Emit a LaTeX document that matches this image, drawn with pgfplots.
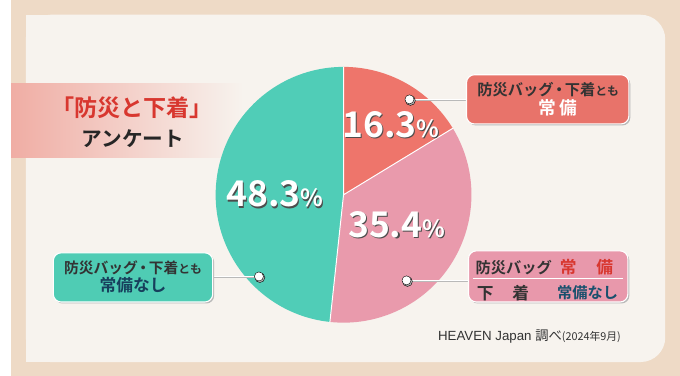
\documentclass[border=0pt]{standalone}
\usepackage{pgfplots}
\pgfplotsset{compat=1.18}
\usepackage{pgfplotstable}
\usepackage{fontspec}
\setmainfont{Noto Sans CJK JP}[BoldFont={Noto Sans CJK JP Bold}]
\newfontfamily\latin{Liberation Sans}
\definecolor{bgOuter}{HTML}{EEDAC6}
\definecolor{panel}{HTML}{F7F3EE}
\definecolor{pieRed}{HTML}{EE756B}
\definecolor{piePink}{HTML}{E99AAC}
\definecolor{pieTeal}{HTML}{50CDB7}
\definecolor{boxRed}{HTML}{E8736A}
\definecolor{boxPink}{HTML}{E898AB}
\definecolor{boxTeal}{HTML}{4FCCB4}
\definecolor{titleRed}{HTML}{D8372F}
\definecolor{darkText}{HTML}{333333}
\definecolor{navy}{HTML}{173F5C}
\definecolor{darkTeal}{HTML}{18506D}
\definecolor{bandPink}{HTML}{F0ADA4}
\definecolor{bandMid}{HTML}{F5CFC8}
\newcommand\olcopy[4]{\makebox[0pt][l]{\kern#1\raisebox{#2}{\textcolor{#3}{#4}}}}
\newcommand\sh[1]{\olcopy{1.3pt}{-1.3pt}{black!70}{#1}\textcolor{white}{#1}}
\pgfplotstableread{
label value
both 16.3
bag 35.4
none 48.3
}\piedata
\begin{document}
\pgfplotstablegetelem{0}{value}\of\piedata \let\va\pgfplotsretval
\pgfplotstablegetelem{1}{value}\of\piedata \let\vb\pgfplotsretval
\pgfplotstablegetelem{2}{value}\of\piedata \let\vc\pgfplotsretval
\pgfmathsetmacro\aA{90}
\pgfmathsetmacro\aB{90-3.6*\va}
\pgfmathsetmacro\aC{\aB-3.6*\vb}
\pgfmathsetmacro\aD{\aC-3.6*\vc}
\def\cx{338}\def\cy{184}\def\rr{130}
\begin{tikzpicture}
\begin{axis}[x=1pt,y=1pt,xmin=0,xmax=680,ymin=0,ymax=382,hide axis,clip=false,scale only axis]
% background
\fill[bgOuter] (axis cs:0,0) rectangle (axis cs:680,382);
\fill[panel, rounded corners=25pt] (axis cs:15,14) rectangle (axis cs:665,367);
\fill[panel] (axis cs:15,14) rectangle (axis cs:120,367);
% title band
\shade[left color=bandPink, middle color=bandMid, right color=panel] (axis cs:0,222) rectangle (axis cs:236,297);
% pie
\fill[pieRed] (axis cs:\cx,\cy) -- (axis cs:{\cx+\rr*cos(\aA)},{\cy+\rr*sin(\aA)}) arc[start angle=\aA, end angle=\aB, radius=\rr pt] -- cycle;
\fill[piePink] (axis cs:\cx,\cy) -- (axis cs:{\cx+\rr*cos(\aB)},{\cy+\rr*sin(\aB)}) arc[start angle=\aB, end angle=\aC, radius=\rr pt] -- cycle;
\fill[pieTeal] (axis cs:\cx,\cy) -- (axis cs:{\cx+\rr*cos(\aC)},{\cy+\rr*sin(\aC)}) arc[start angle=\aC, end angle=\aD, radius=\rr pt] -- cycle;
\draw[white, line width=1pt] (axis cs:{\cx+\rr*cos(\aA)},{\cy+\rr*sin(\aA)}) -- (axis cs:\cx,\cy) -- (axis cs:{\cx+\rr*cos(\aB)},{\cy+\rr*sin(\aB)});
\draw[white, line width=1pt] (axis cs:\cx,\cy) -- (axis cs:{\cx+\rr*cos(\aC)},{\cy+\rr*sin(\aC)});
% leader lines
\draw[gray!55, line width=2pt] (axis cs:405,280) -- (axis cs:464,280);
\draw[white, line width=1.4pt] (axis cs:405,281) -- (axis cs:464,281);
\draw[gray!55, line width=2pt] (axis cs:402,96) -- (axis cs:466,96);
\draw[white, line width=1.4pt] (axis cs:402,97) -- (axis cs:466,97);
\draw[gray!55, line width=2pt] (axis cs:204,100) -- (axis cs:252,100);
\draw[white, line width=1.4pt] (axis cs:204,101) -- (axis cs:252,101);
\addplot[only marks, mark=*, mark size=5pt, mark options={fill=gray!60, draw=none}] coordinates {(406,279.8) (403,95.8) (253,99.8)};
\addplot[only marks, mark=*, mark size=4.6pt, mark options={fill=white, draw=none}] coordinates {(405,281) (402,97) (252,101)};
% boxes
\fill[gray!55, rounded corners=8pt] (axis cs:464.5,254.5) rectangle (axis cs:629.5,304.5);
\draw[fill=boxRed, draw=white, line width=1.1pt, rounded corners=8pt] (axis cs:463,256) rectangle (axis cs:628,306);
\fill[gray!55, rounded corners=8pt] (axis cs:466.5,73.5) rectangle (axis cs:628.5,125.5);
\draw[fill=boxPink, draw=white, line width=1.1pt, rounded corners=8pt] (axis cs:465,75) rectangle (axis cs:627,127);
\draw[white, line width=1pt] (axis cs:470,99) -- (axis cs:622,99);
\fill[gray!55, rounded corners=8pt] (axis cs:44.5,73.5) rectangle (axis cs:206.5,123.5);
\draw[fill=boxTeal, draw=white, line width=1.1pt, rounded corners=8pt] (axis cs:43,75) rectangle (axis cs:205,125);
% box texts
\node[inner sep=0pt, text=darkText] at (axis cs:546,291) {\bfseries\fontsize{15.5}{16}\selectfont 防災バッグ\kern-2pt・\kern-2pt下着\fontsize{12}{13}\selectfont とも};
\node[inner sep=0pt, text=white] at (axis cs:556,272) {\bfseries\fontsize{18}{19}\selectfont 常\kern3pt 備};
\node[inner sep=0pt, text=darkText] at (axis cs:511,110) {\bfseries\fontsize{15.5}{16}\selectfont 防災バッグ};
\node[inner sep=0pt, text=titleRed] at (axis cs:585,110) {\bfseries\fontsize{17}{18}\selectfont 常\kern20pt 備};
\node[inner sep=0pt, text=darkText] at (axis cs:500,84) {\bfseries\fontsize{17}{18}\selectfont 下\kern19pt 着};
\node[inner sep=0pt, text=darkTeal] at (axis cs:586,84) {\bfseries\fontsize{15.5}{16}\selectfont 常備なし};
\node[inner sep=0pt, text=darkText] at (axis cs:124,110) {\bfseries\fontsize{15}{16}\selectfont 防災バッグ\kern-2pt・\kern-2pt下着\fontsize{12}{13}\selectfont とも};
\node[inner sep=0pt, text=navy] at (axis cs:124,92) {\bfseries\fontsize{17}{18}\selectfont 常備なし};
% title
\node[inner sep=0pt, text=titleRed] at (axis cs:123,272) {\bfseries\fontsize{23.5}{24}\selectfont 「防災と下着」};
\node[inner sep=0pt, text=black!85] at (axis cs:124,241) {\bfseries\fontsize{21}{22}\selectfont アンケート};
% percentages
\node[inner sep=0pt] at (axis cs:386,255) {\sh{\bfseries\fontsize{36}{38}\selectfont 16.3\fontsize{24}{26}\selectfont\%}};
\node[inner sep=0pt] at (axis cs:392,153) {\sh{\bfseries\fontsize{36}{38}\selectfont 35.4\fontsize{24}{26}\selectfont\%}};
\node[inner sep=0pt] at (axis cs:268,184) {\sh{\bfseries\fontsize{36}{38}\selectfont 48.3\fontsize{24}{26}\selectfont\%}};
% source
\node[inner sep=0pt, text=black!80] at (axis cs:527,40) {\latin\fontsize{13.5}{14}\selectfont HEAVEN Japan \rmfamily 調べ\fontsize{11}{12}\selectfont (2024年9月)};
\end{axis}
\end{tikzpicture}
\end{document}
